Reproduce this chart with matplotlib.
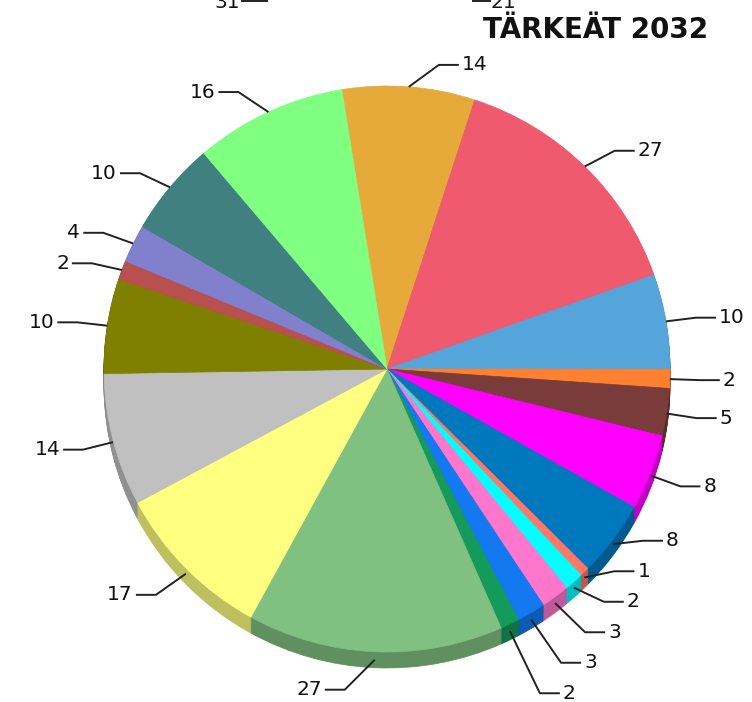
import numpy as np
import matplotlib
matplotlib.use('Agg')
import matplotlib.pyplot as plt
from matplotlib.colors import to_rgb

# slice values, clockwise from the top
values = [14, 27, 10, 2, 5, 8, 8, 1, 2, 3, 3, 2, 27, 17, 14, 10, 2, 4, 10, 16]
colors = ['#E6AA3A', '#F05A6E', '#55A5DA', '#FF8030', '#7A3B3B', '#FF00FF',
          '#0078BE', '#FF7766', '#00FFFF', '#FF77CC', '#1478F0', '#149A5A',
          '#80C080', '#FFFF80', '#C0C0C0', '#808000', '#B85050', '#8080CC',
          '#408080', '#80FF80']
title = 'TÄRKEÄT 2032'

# geometry in pixels
W, H = 752, 702
cx, cy, r = 387, 369, 283
depth = 16
start = 99.2
label_gap = 30.5

fig = plt.figure(figsize=(W / 100, H / 100), dpi=100)
ax = fig.add_axes([0, 0, 1, 1])

def darker(c, f=0.75):
    return tuple(v * f for v in to_rgb(c))

side_colors = [darker(c) for c in colors]

# side of the 3D pie: stack of shifted darker pies
for k in range(depth, 0, -1):
    wedges, _ = ax.pie(values, colors=side_colors, startangle=-start,
                       counterclock=True, radius=r, center=(cx, cy + k))
    for w in wedges:
        w.set_edgecolor(w.get_facecolor())
        w.set_linewidth(0.5)

# top face
wedges, _ = ax.pie(values, colors=colors, startangle=-start,
                   counterclock=True, radius=r, center=(cx, cy))
for w in wedges:
    w.set_edgecolor(w.get_facecolor())
    w.set_linewidth(0.5)

# label placement
total = float(sum(values))
cum = np.cumsum([0] + values[:-1])
mids = np.radians(-start + (cum + np.array(values) / 2) * 360 / total)

anchors = []
ys = []
for th in mids:
    s, c = np.sin(th), np.cos(th)
    extra = depth * s if s > 0 else 0
    ax_ = cx + r * c
    ay_ = cy + r * s + extra / 2
    anchors.append((ax_, ay_))
    ys.append(cy + (r + 22) * s + extra)
ys = np.array(ys)

def spread(idx):
    idx = sorted(idx, key=lambda i: ys[i])
    for _ in range(500):
        moved = False
        for a, b in zip(idx[:-1], idx[1:]):
            d = ys[b] - ys[a]
            if d < label_gap:
                sh = (label_gap - d) / 2
                ys[a] -= sh
                ys[b] += sh
                moved = True
        if not moved:
            break

right = [i for i, th in enumerate(mids) if np.cos(th) > 0]
left = [i for i, th in enumerate(mids) if np.cos(th) <= 0]
spread(right)
spread(left)

for i, v in enumerate(values):
    sgn = 1 if i in right else -1
    x0, y0 = anchors[i]
    ex, ey = x0 + sgn * 30, ys[i]
    ax.plot([x0, ex, ex + sgn * 20], [y0, ey, ey], color='#222222', lw=1.4,
            solid_capstyle='butt')
    ax.text(ex + sgn * 23, ey, str(v), ha='left' if sgn > 0 else 'right',
            va='center', fontsize=14.5, color='#111111')

# cut-off labels of the chart above
ax.plot([242, 267], [1, 1], color='#222222', lw=1.4)
ax.text(240, 8, '31', ha='right', va='baseline', fontsize=14.5, color='#111111')
ax.plot([473, 490], [1, 1], color='#222222', lw=1.4)
ax.text(490, 8, '21', ha='left', va='baseline', fontsize=14.5, color='#111111')

ax.text(483, 30, title, ha='left', va='center', fontsize=20,
        fontweight='bold', color='#111111')

ax.set_xlim(0, W)
ax.set_ylim(H, 0)
ax.set_aspect('auto')
ax.axis('off')

fig.savefig('out.png', dpi=100)
